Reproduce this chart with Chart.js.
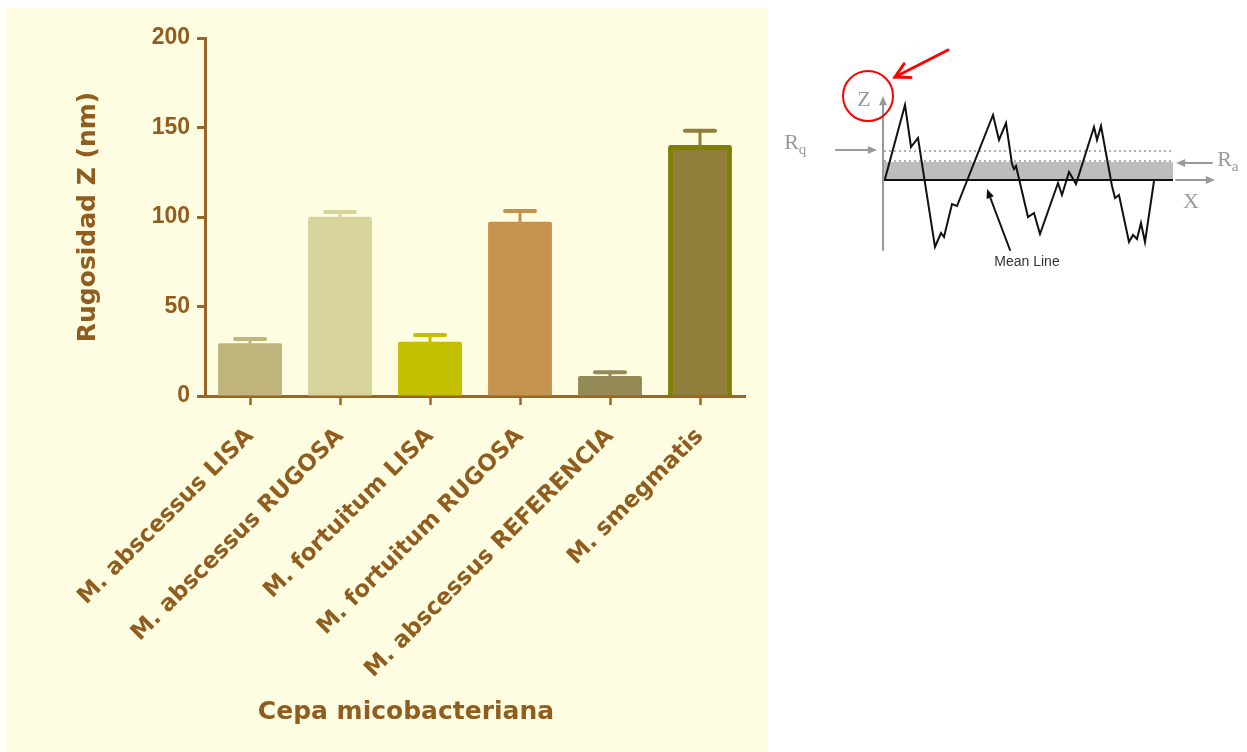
<!DOCTYPE html>
<html>
<head>
<meta charset="utf-8">
<script src="https://cdn.jsdelivr.net/npm/chart.js@4.4.1/dist/chart.umd.min.js"></script>
<style>
  body { margin: 0; background: #fff; }
  #panel { position: absolute; left: 6px; top: 8px; width: 762px; height: 744px; background: #fffde1; }
  #diagram { position: absolute; left: 770px; top: 40px; width: 477px; height: 240px; }
</style>
</head>
<body>
<div id="panel"><canvas id="bars"></canvas></div>
<div id="diagram"><canvas id="profile"></canvas></div>
<script>
// bar chart data
const strains = ['M. abscessus LISA', 'M. abscessus RUGOSA', 'M. fortuitum LISA',
  'M. fortuitum RUGOSA', 'M. abscessus REFERENCIA', 'M. smegmatis']
const roughness = [29.5, 100.2, 30.3, 97.4, 11.2, 140.2]
const roughnessErr = [2.3, 2.6, 3.8, 6.0, 2.0, 8.0]
const yMin = 0
const yMax = 200
const yStep = 50
const xTitle = 'Cepa micobacteriana'

// surface profile sketch (x along surface, z height around the mean line)
const profileX = [2, 22, 28, 35, 52, 58, 61, 69, 74, 110, 116, 123, 129, 131, 133, 145, 151, 157,
  175, 179, 186, 193, 211, 214, 218, 229, 232, 236, 246, 250, 254, 258, 262, 271]
const profileZ = [1, 75, 33, 42, -67, -53, -57, -24, -26, 65, 40, 57, 16, 11, 14, -37, -33, -54,
  -3, -15, 8, -4, 53, 40, 54, -6, -18, -15, -62, -55, -59, -43, -62, -1]
const surfaceEnd = 290
const raLevel = 18
const rqLevel = 29

const textColor = '#915d1f'
const axisColor = '#9a6626'
const barFill = ['#bfb57c', '#d6d49b', '#c3c000', '#c6934f', '#938a55', '#8f7e39']
const barEdge = ['#bfb57c', '#d6d49b', '#c3c000', '#c6934f', '#938a55', '#808000']
const barEdgeWidth = [0, 0, 0, 0, 0, 5]

const errorBars = {
  id: 'errorBars',
  afterDatasetsDraw (chart) {
    const ctx = chart.ctx
    const meta = chart.getDatasetMeta(0)
    const y = chart.scales.y
    ctx.save()
    ctx.lineCap = 'round'
    meta.data.forEach((bar, i) => {
      const top = y.getPixelForValue(roughness[i])
      const tip = y.getPixelForValue(roughness[i] + roughnessErr[i])
      ctx.strokeStyle = barFill[i]
      ctx.lineWidth = 3
      ctx.beginPath()
      ctx.moveTo(bar.x, top)
      ctx.lineTo(bar.x, tip)
      ctx.stroke()
      ctx.lineWidth = 4
      ctx.beginPath()
      ctx.moveTo(bar.x - 15, tip)
      ctx.lineTo(bar.x + 15, tip)
      ctx.stroke()
    })
    ctx.restore()
  }
}

// x axis title sits left of the plot centre in the original
const xAxisTitle = {
  id: 'xAxisTitle',
  afterDraw (chart) {
    const ctx = chart.ctx
    ctx.save()
    ctx.font = 'bold 25px "DejaVu Sans"'
    ctx.fillStyle = textColor
    ctx.textAlign = 'center'
    ctx.textBaseline = 'middle'
    ctx.fillText(xTitle, chart.chartArea.left + 201, chart.height - 40)
    ctx.restore()
  }
}

new Chart(document.getElementById('bars'), {
  type: 'bar',
  data: {
    labels: strains,
    datasets: [{
      data: roughness,
      backgroundColor: barFill,
      borderColor: barEdge,
      borderWidth: barEdgeWidth,
      borderRadius: 2,
      borderSkipped: 'start',
      categoryPercentage: 1,
      barPercentage: 0.71
    }]
  },
  options: {
    responsive: true,
    maintainAspectRatio: false,
    animation: false,
    layout: { padding: { left: 20, top: 30, right: 23, bottom: 0 } },
    plugins: { legend: { display: false }, tooltip: { enabled: false } },
    scales: {
      x: {
        offset: true,
        grid: { offset: false, drawOnChartArea: false, tickLength: 9, tickWidth: 2.5, color: axisColor },
        border: { color: axisColor, width: 3 },
        ticks: {
          autoSkip: false,
          minRotation: 45,
          maxRotation: 45,
          padding: 18,
          color: textColor,
          font: { family: 'DejaVu Sans', weight: 'bold', size: 23 }
        },
        afterFit: (s) => { s.height = 356 }
      },
      y: {
        min: yMin,
        max: yMax,
        grid: { drawOnChartArea: false, tickLength: 8, tickWidth: 3, color: axisColor },
        border: { color: axisColor, width: 3 },
        ticks: {
          stepSize: yStep,
          padding: 7,
          color: textColor,
          font: { family: 'Liberation Sans', weight: 'bold', size: 23 }
        },
        title: {
          display: true,
          text: 'Rugosidad Z (nm)',
          color: textColor,
          font: { family: 'DejaVu Sans', weight: 'bold', size: 25, lineHeight: 1.2 },
          padding: { top: 47, bottom: 0 }
        },
        afterFit: (s) => { s.width = 179 }
      }
    }
  },
  plugins: [errorBars, xAxisTitle]
})

// arrows and labels of the sketch, in the sketch's own units
const arrows = [
  { from: [0, -70], to: [0, 84], color: '#999', width: 2, head: 'fill' },
  { from: [293, 0], to: [332, 0], color: '#999', width: 2, head: 'fill' },
  { from: [-47, 30], to: [-6, 30], color: '#999', width: 2, head: 'fill' },
  { from: [329, 17], to: [293, 17], color: '#999', width: 2, head: 'fill' },
  { from: [127, -70], to: [104, -9], color: '#111', width: 2, head: 'fill' },
  { from: [65, 130], to: [12, 103], color: '#f00', width: 3, head: 'open' }
]
const notes = [
  { text: 'Z', at: [-19, 80], font: '22px "Liberation Serif"', color: '#999' },
  { text: 'R', sub: 'q', at: [-87, 37], font: '22px "Liberation Serif"', color: '#999' },
  { text: 'R', sub: 'a', at: [346, 20], font: '22px "Liberation Serif"', color: '#999' },
  { text: 'X', at: [308, -22], font: '22px "Liberation Serif"', color: '#999' },
  { text: 'Mean Line', at: [144, -82], font: '14px "Liberation Sans"', color: '#333' }
]

const sketchMarks = {
  id: 'sketchMarks',
  afterDatasetsDraw (chart) {
    const ctx = chart.ctx
    const sx = chart.scales.x
    const sy = chart.scales.y
    const px = (p) => [sx.getPixelForValue(p[0]), sy.getPixelForValue(p[1])]
    ctx.save()
    arrows.forEach((a) => {
      const [x0, y0] = px(a.from)
      const [x1, y1] = px(a.to)
      const ang = Math.atan2(y1 - y0, x1 - x0)
      const len = a.head === 'open' ? 16 : 10
      const half = a.head === 'open' ? 0.5 : 0.4
      ctx.strokeStyle = a.color
      ctx.fillStyle = a.color
      ctx.lineWidth = a.width
      ctx.lineCap = 'round'
      ctx.beginPath()
      ctx.moveTo(x0, y0)
      if (a.head === 'fill') {
        ctx.lineTo(x1 - Math.cos(ang) * (len - 2), y1 - Math.sin(ang) * (len - 2))
      } else {
        ctx.lineTo(x1, y1)
      }
      ctx.stroke()
      const lx = x1 - Math.cos(ang - half) * len
      const ly = y1 - Math.sin(ang - half) * len
      const rx = x1 - Math.cos(ang + half) * len
      const ry = y1 - Math.sin(ang + half) * len
      ctx.beginPath()
      ctx.moveTo(lx, ly)
      ctx.lineTo(x1, y1)
      ctx.lineTo(rx, ry)
      if (a.head === 'fill') {
        ctx.closePath()
        ctx.fill()
      } else {
        ctx.stroke()
      }
    })
    // red ring round the Z label
    const [cx, cy] = px([-15, 84])
    ctx.strokeStyle = '#f00'
    ctx.lineWidth = 2
    ctx.beginPath()
    ctx.arc(cx, cy, 25, 0, Math.PI * 2)
    ctx.stroke()
    notes.forEach((n) => {
      const [x, y] = px(n.at)
      ctx.font = n.font
      ctx.fillStyle = n.color
      ctx.textBaseline = 'middle'
      if (n.sub) {
        const w = ctx.measureText(n.text).width
        const sw = 9
        ctx.textAlign = 'left'
        ctx.fillText(n.text, x - (w + sw) / 2, y)
        ctx.font = '15px "Liberation Serif"'
        ctx.fillText(n.sub, x - (w + sw) / 2 + w, y + 7)
      } else {
        ctx.textAlign = 'center'
        ctx.fillText(n.text, x, y)
      }
    })
    ctx.restore()
  }
}

const line = (pts, color, width, extra) => Object.assign({
  data: pts, showLine: true, pointRadius: 0, borderColor: color, borderWidth: width, fill: false
}, extra)

// first dataset is painted on top
new Chart(document.getElementById('profile'), {
  type: 'scatter',
  data: {
    datasets: [
      line(profileX.map((x, i) => ({ x, y: profileZ[i] })), '#111', 2, { tension: 0 }),
      line([{ x: 0, y: 0 }, { x: surfaceEnd, y: 0 }], '#111', 2),
      line([{ x: 1, y: rqLevel }, { x: surfaceEnd, y: rqLevel }], '#999', 1.5, { borderDash: [2, 3] }),
      line([{ x: 1, y: raLevel + 1 }, { x: surfaceEnd, y: raLevel + 1 }], '#999', 1.5, { borderDash: [2, 3] }),
      line([{ x: 1, y: raLevel }, { x: surfaceEnd, y: raLevel }], 'rgba(0,0,0,0)', 0,
        { fill: 'origin', backgroundColor: '#bdbdbd' })
    ]
  },
  options: {
    responsive: true,
    maintainAspectRatio: false,
    animation: false,
    layout: { padding: 0 },
    plugins: { legend: { display: false }, tooltip: { enabled: false } },
    scales: {
      x: { type: 'linear', display: false, min: -113, max: 364 },
      y: { type: 'linear', display: false, min: -100, max: 140 }
    }
  },
  plugins: [sketchMarks]
})
</script>
</body>
</html>
